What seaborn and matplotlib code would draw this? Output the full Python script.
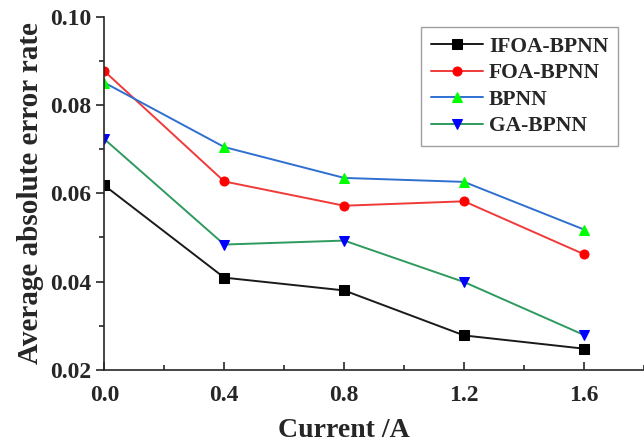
import numpy as np
import pandas as pd
import matplotlib
matplotlib.use("Agg")
import matplotlib.pyplot as plt
import seaborn as sns
from matplotlib.ticker import MultipleLocator

# data
current = [0.0, 0.4, 0.8, 1.2, 1.6]
ifoa_bpnn = [0.0618, 0.0409, 0.0380, 0.0278, 0.0248]
foa_bpnn = [0.0877, 0.0627, 0.0572, 0.0582, 0.0462]
bpnn = [0.0851, 0.0705, 0.0635, 0.0626, 0.0518]
ga_bpnn = [0.0723, 0.0484, 0.0493, 0.0399, 0.0279]

names = ["IFOA-BPNN", "FOA-BPNN", "BPNN", "GA-BPNN"]
line_colors = ["#1a1a1a", "#f03a3a", "#2f6fd0", "#2e9a5e"]
marker_colors = ["#000000", "#ff0000", "#00ff00", "#0000ff"]
markers = ["s", "o", "^", "v"]

df = pd.DataFrame({"Current": current, "IFOA-BPNN": ifoa_bpnn,
                   "FOA-BPNN": foa_bpnn, "BPNN": bpnn, "GA-BPNN": ga_bpnn})
long = df.melt(id_vars="Current", var_name="model", value_name="err")

sns.set_style("ticks")
plt.rcParams['font.family'] = ['Liberation Serif', 'DejaVu Serif']
plt.rcParams['font.weight'] = 'bold'

fig = plt.figure(figsize=(6.44, 4.44), dpi=100)
ax = fig.add_axes([0.162, 0.167, 0.838, 0.795])

for name, lc, mc, m in zip(names, line_colors, marker_colors, markers):
    sub = long[long["model"] == name]
    sns.lineplot(data=sub, x="Current", y="err", ax=ax, color=lc, lw=1.4,
                 marker=m, markersize=6.5, markerfacecolor=mc,
                 markeredgecolor=mc, label=name)

ax.set_xlim(0, 1.8)
ax.set_ylim(0.02, 0.10)
ax.set_xticks([0.0, 0.4, 0.8, 1.2, 1.6])
ax.set_yticks([0.02, 0.04, 0.06, 0.08, 0.10])
ax.xaxis.set_minor_locator(MultipleLocator(0.2))
ax.yaxis.set_minor_locator(MultipleLocator(0.01))
ax.set_xticklabels(["0.0", "0.4", "0.8", "1.2", "1.6"])
ax.set_yticklabels(["0.02", "0.04", "0.06", "0.08", "0.10"])

ax.tick_params(axis="x", which="both", direction="in", labelsize=17, pad=11)
ax.tick_params(axis="y", which="both", direction="out", labelsize=17)
ax.tick_params(which="major", length=6, width=1.2)
ax.tick_params(which="minor", length=3.5, width=1.2)
for lab in ax.get_xticklabels() + ax.get_yticklabels():
    lab.set_fontweight("bold")

for s in ["top", "right"]:
    ax.spines[s].set_visible(False)
for s in ["left", "bottom"]:
    ax.spines[s].set_linewidth(1.2)

ax.set_xlabel("Current /A", fontsize=20, fontweight="bold", labelpad=10)
ax.xaxis.set_label_coords(0.8 / 1.8, -0.135)
ax.set_ylabel("Average absolute error rate", fontsize=21, fontweight="bold", labelpad=4)

leg = ax.legend(loc="upper right", bbox_to_anchor=(0.952, 0.972), fontsize=15.5,
                frameon=True, fancybox=False, handlelength=2.4,
                borderpad=0.45, labelspacing=0.3, handletextpad=0.3,
                borderaxespad=0)
leg.get_frame().set_edgecolor("#888888")
leg.get_frame().set_linewidth(1.0)
for t in leg.get_texts():
    t.set_fontweight("bold")

fig.savefig("out.png", dpi=100)
